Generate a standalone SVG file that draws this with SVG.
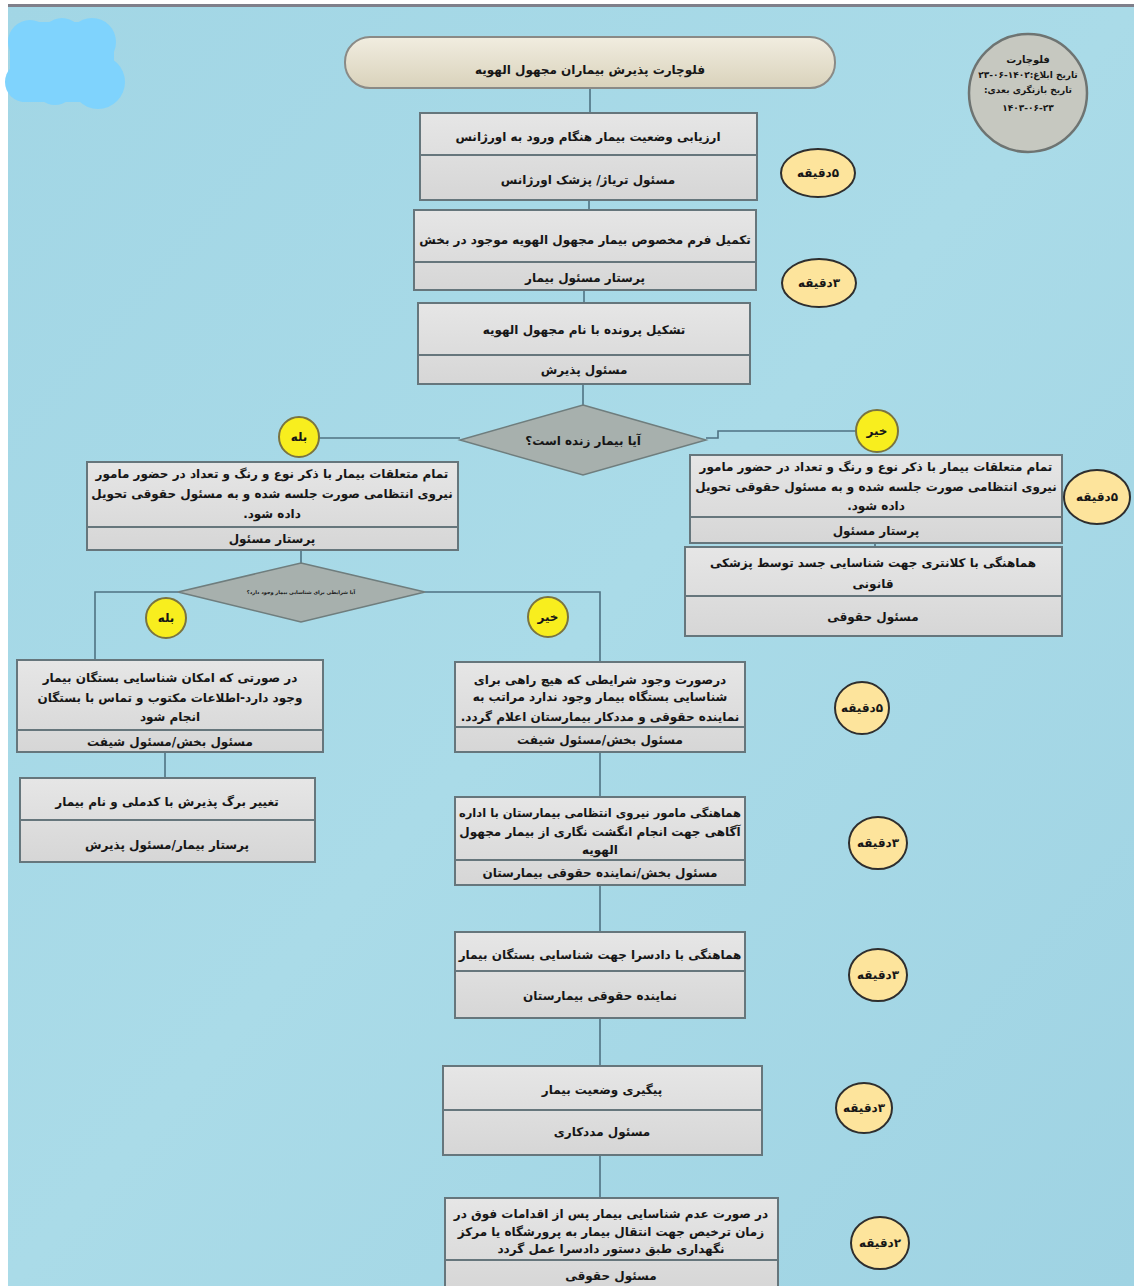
<svg xmlns="http://www.w3.org/2000/svg" width="1134" height="1286" viewBox="0 0 1134 1286">
<style>
.t{font-family:"DejaVu Sans",sans-serif;font-weight:bold;font-size:12px;fill:#161616;text-anchor:middle;direction:rtl}
.box{fill:url(#boxg);stroke:#66767c;stroke-width:2}
.sep{stroke:#66767c;stroke-width:2}
.dia{fill:#a7b0ad;stroke:#6f7d7d;stroke-width:1.5}
.yes{fill:#f8ee1e;stroke:#7a7440;stroke-width:2}
.tm{fill:#fde49c;stroke:#2e2e2e;stroke-width:2}
.ln{fill:none;stroke:#4f7282;stroke-width:1.6}
</style>
<defs>
<linearGradient id="bg" x1="0" y1="0" x2="1" y2="1">
<stop offset="0" stop-color="#a2d6e5"/><stop offset="0.5" stop-color="#aadbe8"/><stop offset="1" stop-color="#9fd3e3"/>
</linearGradient>
<linearGradient id="boxg" x1="0" y1="0" x2="0" y2="1">
<stop offset="0" stop-color="#e6e6e6"/><stop offset="1" stop-color="#d6d6d6"/>
</linearGradient>
<linearGradient id="capg" x1="0" y1="0" x2="0" y2="1">
<stop offset="0" stop-color="#f1ede0"/><stop offset="1" stop-color="#d9d2bb"/>
</linearGradient>
</defs>
<rect x="0" y="0" width="1134" height="1286" fill="#ffffff"/>
<rect x="8" y="6" width="1126" height="1280" fill="url(#bg)"/>
<rect x="8" y="4" width="1126" height="3" fill="#7f7f8a"/>
<g id="blob" fill="#7fd3fd">
<circle cx="30" cy="42" r="22"/><circle cx="62" cy="38" r="20"/><circle cx="92" cy="42" r="24"/>
<circle cx="25" cy="82" r="20"/><circle cx="55" cy="85" r="20"/><circle cx="98" cy="82" r="27"/>
<rect x="10" y="38" width="104" height="52"/>
<rect x="22" y="22" width="84" height="80"/>
</g>
<g id="connectors">
<line class="ln" x1="590" y1="88" x2="590" y2="113"/>
<line class="ln" x1="589" y1="200" x2="589" y2="210"/>
<line class="ln" x1="584" y1="290" x2="584" y2="303"/>
<line class="ln" x1="583" y1="384" x2="583" y2="405"/>
<polyline class="ln" points="460,438 318,438"/>
<polyline class="ln" points="706,438 718,438 718,431 856,431"/>
<line class="ln" x1="301" y1="550" x2="301" y2="563"/>
<line class="ln" x1="875" y1="543" x2="875" y2="547"/>
<polyline class="ln" points="178,592 95,592 95,660"/>
<polyline class="ln" points="425,592 600,592 600,662"/>
<line class="ln" x1="165" y1="752" x2="165" y2="778"/>
<line class="ln" x1="600" y1="752" x2="600" y2="797"/>
<line class="ln" x1="600" y1="885" x2="600" y2="932"/>
<line class="ln" x1="600" y1="1018" x2="600" y2="1066"/>
<line class="ln" x1="600" y1="1155" x2="600" y2="1198"/>
</g>
<g id="title">
<rect x="345" y="37" width="490" height="51" rx="25" fill="url(#capg)" stroke="#8a8a86" stroke-width="2"/>
<text class="t" x="590" y="74">فلوچارت پذیرش بیماران مجهول الهویه</text>
</g>
<g id="info">
<circle cx="1028" cy="93" r="59" fill="#c6c8c0" stroke="#6e7472" stroke-width="2.5"/>
<text class="t" x="1028" y="63" style="font-size:10px">فلوچارت</text>
<text class="t" x="1028" y="78" style="font-size:9px">تاریخ ابلاغ:۱۴۰۲-۰۶-۲۳</text>
<text class="t" x="1028" y="93" style="font-size:9px">تاریخ بازنگری بعدی:</text>
<text class="t" x="1028" y="111" style="font-size:9px">۱۴۰۳-۰۶-۲۳</text>
</g>
<g id="n1">
<rect class="box" x="420" y="113" width="337" height="87"/>
<line class="sep" x1="420" y1="155" x2="757" y2="155"/>
<text class="t" x="588" y="141">ارزیابی وضعیت  بیمار هنگام ورود به اورژانس</text>
<text class="t" x="588" y="184">مسئول تریاژ/ پزشک اورژانس</text>
</g>
<g id="t1"><ellipse class="tm" cx="818" cy="173" rx="37" ry="24"/><text class="t" x="818" y="177">۵دقیقه</text></g>
<g id="n2">
<rect class="box" x="414" y="210" width="342" height="80"/>
<line class="sep" x1="414" y1="262" x2="756" y2="262"/>
<text class="t" x="585" y="244">تکمیل فرم مخصوص بیمار مجهول الهویه موجود در بخش</text>
<text class="t" x="585" y="282">پرستار مسئول بیمار</text>
</g>
<g id="t2"><ellipse class="tm" cx="819" cy="283" rx="37" ry="24"/><text class="t" x="819" y="287">۳دقیقه</text></g>
<g id="n3">
<rect class="box" x="418" y="303" width="332" height="81"/>
<line class="sep" x1="418" y1="355" x2="750" y2="355"/>
<text class="t" x="584" y="334">تشکیل پرونده با نام مجهول الهویه</text>
<text class="t" x="584" y="374">مسئول پذیرش</text>
</g>
<g id="d1">
<polygon class="dia" points="583,405 706,440 583,475 460,440"/>
<text class="t" x="583" y="445">آیا بیمار زنده است؟</text>
</g>
<g id="yes1"><circle class="yes" cx="299" cy="437" r="20"/><text class="t" x="299" y="441">بله</text></g>
<g id="no1"><circle class="yes" cx="877" cy="431" r="21"/><text class="t" x="877" y="435">خیر</text></g>
<g id="n4">
<rect class="box" x="87" y="462" width="371" height="88"/>
<line class="sep" x1="87" y1="527" x2="458" y2="527"/>
<text class="t" x="272" y="478">تمام متعلقات بیمار با ذکر نوع و رنگ و تعداد در حضور مامور</text>
<text class="t" x="272" y="498">نیروی انتظامی صورت جلسه شده و به مسئول حقوقی تحویل</text>
<text class="t" x="272" y="518">داده شود.</text>
<text class="t" x="272" y="543">پرستار مسئول</text>
</g>
<g id="n5">
<rect class="box" x="690" y="455" width="372" height="88"/>
<line class="sep" x1="690" y1="517" x2="1062" y2="517"/>
<text class="t" x="876" y="471">تمام متعلقات بیمار با ذکر نوع و رنگ و تعداد در حضور مامور</text>
<text class="t" x="876" y="491">نیروی انتظامی صورت جلسه شده و به مسئول حقوقی تحویل</text>
<text class="t" x="876" y="510">داده شود.</text>
<text class="t" x="876" y="535">پرستار مسئول</text>
</g>
<g id="t3"><ellipse class="tm" cx="1097" cy="497" rx="33" ry="27"/><text class="t" x="1097" y="501">۵دقیقه</text></g>
<g id="n6">
<rect class="box" x="685" y="547" width="377" height="89"/>
<line class="sep" x1="685" y1="596" x2="1062" y2="596"/>
<text class="t" x="873" y="567">هماهنگی با کلانتری جهت شناسایی جسد توسط پزشکی</text>
<text class="t" x="873" y="588">قانونی</text>
<text class="t" x="873" y="621">مسئول حقوقی</text>
</g>
<g id="d2">
<polygon class="dia" points="301,563 425,592 301,622 178,592"/>
<text class="t" x="301" y="594" style="font-size:5px">آیا شرایطی برای شناسایی بیمار وجود دارد؟</text>
</g>
<g id="yes2"><circle class="yes" cx="166" cy="618" r="20"/><text class="t" x="166" y="622">بله</text></g>
<g id="no2"><circle class="yes" cx="548" cy="617" r="20"/><text class="t" x="548" y="621">خیر</text></g>
<g id="n7">
<rect class="box" x="17" y="660" width="306" height="92"/>
<line class="sep" x1="17" y1="730" x2="323" y2="730"/>
<text class="t" x="170" y="682">در صورتی که امکان شناسایی بستگان بیمار</text>
<text class="t" x="170" y="702">وجود دارد-اطلاعات مکتوب و تماس با بستگان</text>
<text class="t" x="170" y="721">انجام شود</text>
<text class="t" x="170" y="746">مسئول بخش/مسئول شیفت</text>
</g>
<g id="n8">
<rect class="box" x="20" y="778" width="295" height="84"/>
<line class="sep" x1="20" y1="820" x2="315" y2="820"/>
<text class="t" x="167" y="806">تغییر برگ پذیرش با کدملی و نام بیمار</text>
<text class="t" x="167" y="849">پرستار بیمار/مسئول پذیرش</text>
</g>
<g id="n9">
<rect class="box" x="455" y="662" width="290" height="90"/>
<line class="sep" x1="455" y1="727" x2="745" y2="727"/>
<text class="t" x="600" y="684">درصورت وجود شرایطی که هیچ راهی برای</text>
<text class="t" x="600" y="701">شناسایی بستگاه بیمار وجود ندارد مراتب به</text>
<text class="t" x="600" y="721">نماینده حقوقی و مددکار بیمارستان اعلام گردد.</text>
<text class="t" x="600" y="744">مسئول بخش/مسئول شیفت</text>
</g>
<g id="t4"><ellipse class="tm" cx="862" cy="708" rx="27" ry="26"/><text class="t" x="862" y="712">۵دقیقه</text></g>
<g id="n10">
<rect class="box" x="455" y="797" width="290" height="88"/>
<line class="sep" x1="455" y1="860" x2="745" y2="860"/>
<text class="t" x="600" y="817" style="font-size:11.5px">هماهنگی مامور نیروی انتظامی بیمارستان با اداره</text>
<text class="t" x="600" y="836">آگاهی جهت انجام انگشت نگاری از بیمار مجهول</text>
<text class="t" x="600" y="854">الهویه</text>
<text class="t" x="600" y="877">مسئول بخش/نماینده حقوقی بیمارستان</text>
</g>
<g id="t5"><ellipse class="tm" cx="878" cy="843" rx="29" ry="26"/><text class="t" x="878" y="847">۳دقیقه</text></g>
<g id="n11">
<rect class="box" x="455" y="932" width="290" height="86"/>
<line class="sep" x1="455" y1="971" x2="745" y2="971"/>
<text class="t" x="600" y="959">هماهنگی با دادسرا جهت شناسایی بستگان بیمار</text>
<text class="t" x="600" y="1000">نماینده حقوقی بیمارستان</text>
</g>
<g id="t6"><ellipse class="tm" cx="878" cy="975" rx="29" ry="26"/><text class="t" x="878" y="979">۳دقیقه</text></g>
<g id="n12">
<rect class="box" x="443" y="1066" width="319" height="89"/>
<line class="sep" x1="443" y1="1110" x2="762" y2="1110"/>
<text class="t" x="602" y="1094">پیگیری وضعیت بیمار</text>
<text class="t" x="602" y="1136">مسئول مددکاری</text>
</g>
<g id="t7"><ellipse class="tm" cx="864" cy="1108" rx="28" ry="25"/><text class="t" x="864" y="1112">۳دقیقه</text></g>
<g id="n13">
<rect class="box" x="445" y="1198" width="333" height="92"/>
<line class="sep" x1="445" y1="1260" x2="778" y2="1260"/>
<text class="t" x="611" y="1218">در صورت عدم شناسایی بیمار پس از اقدامات فوق در</text>
<text class="t" x="611" y="1236">زمان ترخیص جهت انتقال بیمار به پرورشگاه یا مرکز</text>
<text class="t" x="611" y="1253">نگهداری طبق دستور دادسرا عمل گردد</text>
<text class="t" x="611" y="1280">مسئول حقوقی</text>
</g>
<g id="t8"><ellipse class="tm" cx="880" cy="1243" rx="29" ry="26"/><text class="t" x="880" y="1247">۲دقیقه</text></g>
</svg>
